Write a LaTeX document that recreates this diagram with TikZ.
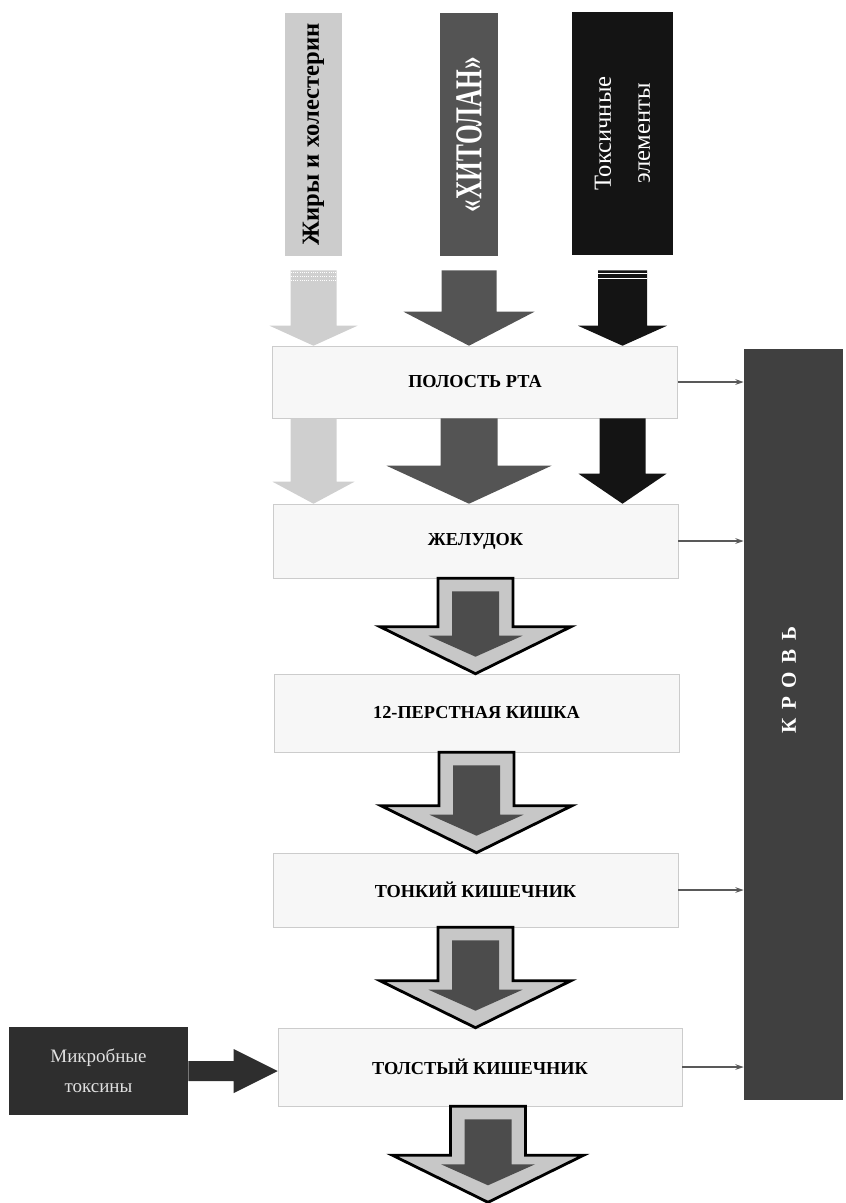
\documentclass[tikz,border=0pt]{standalone}
\usepackage{fontspec}
\setmainfont{Liberation Serif}
\usepackage{graphicx}
\usetikzlibrary{calc,arrows.meta}

\definecolor{fatgrey}{gray}{0.80}
\definecolor{chitgrey}{gray}{0.33}
\definecolor{toxblack}{gray}{0.08}
\definecolor{bloodgrey}{gray}{0.25}
\definecolor{microgrey}{gray}{0.18}
\definecolor{organfill}{gray}{0.97}
\definecolor{organline}{gray}{0.80}
\definecolor{gutlight}{gray}{0.78}
\definecolor{gutdark}{gray}{0.30}

\newcommand{\blockarrow}[6][]{%
  \fill [#1] ($(#2)+(-#4,0)$) -- ($(#2)+(#4,0)$) -- ($(#3)+(#4,#6)$)
    -- ($(#3)+(#5,#6)$) -- (#3) -- ($(#3)+(-#5,#6)$) -- ($(#3)+(-#4,#6)$) -- cycle;
}
\newcommand{\gutarrow}[2]{%
  \blockarrow[gutouter]{#1}{#2}{0.9375}{2.3875}{1.175}
  \fill [gutinner] ($(#1)+(-0.5875,-0.325)$) -- ($(#1)+(0.5875,-0.325)$)
    -- ($(#2)+(0.5875,0.95)$) -- ($(#2)+(1.175,0.95)$) -- ($(#2)+(0,0.425)$)
    -- ($(#2)+(-1.175,0.95)$) -- ($(#2)+(-0.5875,0.95)$) -- cycle;
}

\begin{document}
\begin{tikzpicture}[
    organ/.style={draw=organline, fill=organfill, minimum width=10.125cm,
      inner sep=0pt, font=\fontsize{13}{15}\selectfont\bfseries},
    fatflow/.style={fill=fatgrey!95},
    chitflow/.style={fill=chitgrey},
    toxflow/.style={fill=toxblack},
    microflow/.style={fill=microgrey},
    gutouter/.style={fill=gutlight, draw=black, line width=2pt, line join=miter},
    gutinner/.style={fill=gutdark},
    toblood/.style={->, >={Stealth[length=6pt,width=4pt]}, draw=black!65, line width=0.9pt}
  ]
    \useasboundingbox (0,0) rectangle (21.125,-30.075);
    \node [fill=fatgrey, minimum width=1.425cm, minimum height=6.075cm, inner sep=0pt] (fat) at (7.8375,-3.3625)
      {\rotatebox{90}{\fontsize{17.5}{20}\selectfont\bfseries Жиры и холестерин}};
    \node [fill=chitgrey, text=white, minimum width=1.45cm, minimum height=6.075cm, inner sep=0pt] (chit) at (11.725,-3.3625)
      {\rotatebox{90}{\fontsize{18}{20}\selectfont\bfseries\scalebox{1}[1.5]{«ХИТОЛАН»}}};
    \node [fill=toxblack, text=white, minimum width=2.525cm, minimum height=6.075cm, inner sep=0pt] (tox) at (15.5625,-3.3375)
      {\rotatebox{90}{\fontsize{17.5}{27.7}\selectfont\begin{tabular}{@{}c@{}}Токсичные\\элементы\end{tabular}}};
    \node [organ, minimum height=1.8cm] (mouth) at (11.875,-9.55) {ПОЛОСТЬ РТА};
    \node [organ, minimum height=1.85cm] (stomach) at (11.8875,-13.525) {ЖЕЛУДОК};
    \node [organ, minimum height=1.95cm] (duod) at (11.9125,-17.825) {12-ПЕРСТНАЯ КИШКА};
    \node [organ, minimum height=1.85cm] (small) at (11.8875,-22.25) {ТОНКИЙ КИШЕЧНИК};
    \node [organ, minimum height=1.95cm, minimum width=10.1cm] (large) at (12.0,-26.675) {ТОЛСТЫЙ КИШЕЧНИК};
    \node [fill=bloodgrey, minimum width=2.475cm, minimum height=18.775cm, inner sep=0pt] (blood) at (19.8375,-18.1125) {};
    \node [text=white, font=\fontsize{15}{17}\selectfont\bfseries] (bloodtext) at (19.725,-17.0)
      {\rotatebox{90}{К\kern6pt Р\kern6pt О\kern6pt В\kern6pt Ь}};
    \node [fill=microgrey, text=white!88!black, minimum width=4.475cm, minimum height=2.2cm, inner sep=0pt,
      align=center, font=\fontsize{13.5}{21}\selectfont] (microbe) at (2.4625,-26.775) {Микробные\\токсины};
    \coordinate (fa1) at ($(fat.south)+(0,-0.35)$);
    \coordinate (ft1) at (fat.south |- mouth.north);
    \coordinate (ca1) at ($(chit.south)+(0,-0.35)$);
    \coordinate (ct1) at (chit.south |- mouth.north);
    \coordinate (ta1) at ($(tox.south)+(0,-0.375)$);
    \coordinate (tt1) at (tox.south |- mouth.north);
    \blockarrow[fatflow]{fa1}{ft1}{0.575}{1.1}{0.5}
    \blockarrow[chitflow]{ca1}{ct1}{0.6875}{1.6375}{0.85}
    \blockarrow[toxflow]{ta1}{tt1}{0.6125}{1.1125}{0.5}
    \foreach \d in {0.06,0.16,0.26}
      \draw [white, densely dotted, line width=0.6pt] ($(fa1)+(-0.575,-\d)$) -- ($(fa1)+(0.575,-\d)$);
    \foreach \d in {0.075,0.2}
      \draw [white, line width=1.1pt] ($(ta1)+(-0.6125,-\d)$) -- ($(ta1)+(0.6125,-\d)$);
    \coordinate (fa2) at (fat.south |- mouth.south);
    \coordinate (ft2) at (fat.south |- stomach.north);
    \coordinate (ca2) at (chit.south |- mouth.south);
    \coordinate (ct2) at (chit.south |- stomach.north);
    \coordinate (ta2) at (tox.south |- mouth.south);
    \coordinate (tt2) at (tox.south |- stomach.north);
    \blockarrow[fatflow]{fa2}{ft2}{0.575}{1.025}{0.55}
    \blockarrow[chitflow]{ca2}{ct2}{0.7125}{2.0625}{0.95}
    \blockarrow[toxflow]{ta2}{tt2}{0.575}{1.1}{0.75}
    \coordinate (g1) at (stomach.south |- duod.north);
    \coordinate (g2) at (duod.south |- small.north);
    \coordinate (g3) at (small.south |- large.north);
    \coordinate (g4) at ($(large.south)+(0.2,0)$);
    \coordinate (exit) at ($(g4)+(0,-2.4)$);
    \gutarrow{stomach.south}{g1}
    \gutarrow{duod.south}{g2}
    \gutarrow{small.south}{g3}
    \gutarrow{g4}{exit}
    \coordinate (mt) at (large.west |- microbe.east);
    \fill [microflow] ($(microbe.east)+(0,0.25)$) -- ($(mt)+(-1.1,0.25)$) -- ($(mt)+(-1.1,0.55)$) -- (mt)
      -- ($(mt)+(-1.1,-0.55)$) -- ($(mt)+(-1.1,-0.25)$) -- ($(microbe.east)+(0,-0.25)$) -- cycle;
    \draw [toblood] (mouth.east) -- (mouth.east -| blood.west);
    \draw [toblood] (stomach.east) -- (stomach.east -| blood.west);
    \draw [toblood] (small.east) -- (small.east -| blood.west);
    \draw [toblood] (large.east) -- (large.east -| blood.west);
\end{tikzpicture}
\end{document}
